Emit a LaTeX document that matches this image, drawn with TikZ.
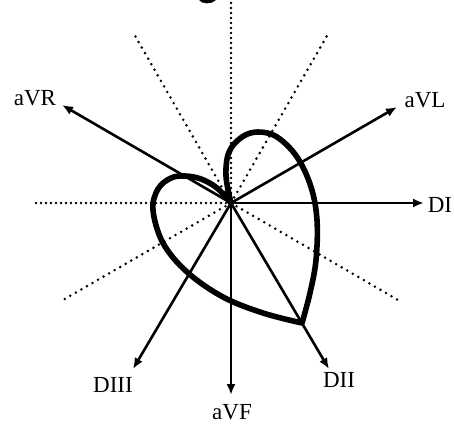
\documentclass[tikz,border=0pt]{standalone}
\usepackage{fontspec}
\setmainfont{Liberation Serif}
\usetikzlibrary{arrows.meta}
\begin{document}
\begin{tikzpicture}[x=1pt,y=-1pt,
  axis/.style={line width=2.6pt,-{Latex[length=11pt,width=9pt]}},
  guide/.style={line width=2.8pt,line cap=round,dash pattern=on 0pt off 5pt},
  guidediag/.style={line width=2.8pt,line cap=round,dash pattern=on 0pt off 6.4pt},
  loop/.style={line width=5.6pt,line join=round},
  lbl/.style={font=\fontsize{23}{23}\selectfont,inner sep=0pt}]
\useasboundingbox (0,0) rectangle (454,425);
% title fragment cut at the top
\fill (199,0) .. controls (202,4.5) and (212,4.5) .. (216,0) -- cycle;
\coordinate (O) at (231,203);
% dotted guides
\coordinate (gW) at (36,203);
\coordinate (gN) at (231,3);
\coordinate (gNW) at (134,34);
\coordinate (gNE) at (328,34);
\coordinate (gSW) at (63,300);
\coordinate (gSE) at (398,300);
\draw[guide] (O) -- (gW);
\draw[guide] (O) -- (gN);
\draw[guidediag] (O) -- (gNW);
\draw[guidediag] (O) -- (gNE);
\draw[guidediag] (O) -- (gSW);
\draw[guidediag] (O) -- (gSE);
% axes
\coordinate (tDI) at (424,203);
\coordinate (taVR) at (62,105);
\coordinate (taVL) at (397,107);
\coordinate (taVF) at (231,395);
\coordinate (tDII) at (329,369);
\coordinate (tDIII) at (133,369);
\draw[axis] (O) -- (tDI);
\draw[axis] (O) -- (taVR);
\draw[axis] (O) -- (taVL);
\draw[axis] (O) -- (taVF);
\draw[axis] (O) -- (tDII);
\draw[axis] (O) -- (tDIII);
% labels
\node[lbl] (lDI) at (440,205) {DI};
\node[lbl] (laVR) at (35,98) {aVR};
\node[lbl] (laVL) at (425,100) {aVL};
\node[lbl] (laVF) at (232,412) {aVF};
\node[lbl] (lDII) at (339,380) {DII};
\node[lbl] (lDIII) at (113,385) {DIII};
% loop
\draw[loop] plot[smooth,tension=0.6] coordinates {(231,203) (226,176) (229,152) (242,137) (258,132) (277,137) (297,157) (311,187) (317,220) (316,260) (310,293) (302,323)}
  -- plot[smooth,tension=0.6] coordinates {(302,323) (263,313) (223,297) (187,272) (163,243) (153,210) (158,189) (171,178) (185,176) (201,179) (217,188) (231,203)} -- cycle;
\end{tikzpicture}
\end{document}
